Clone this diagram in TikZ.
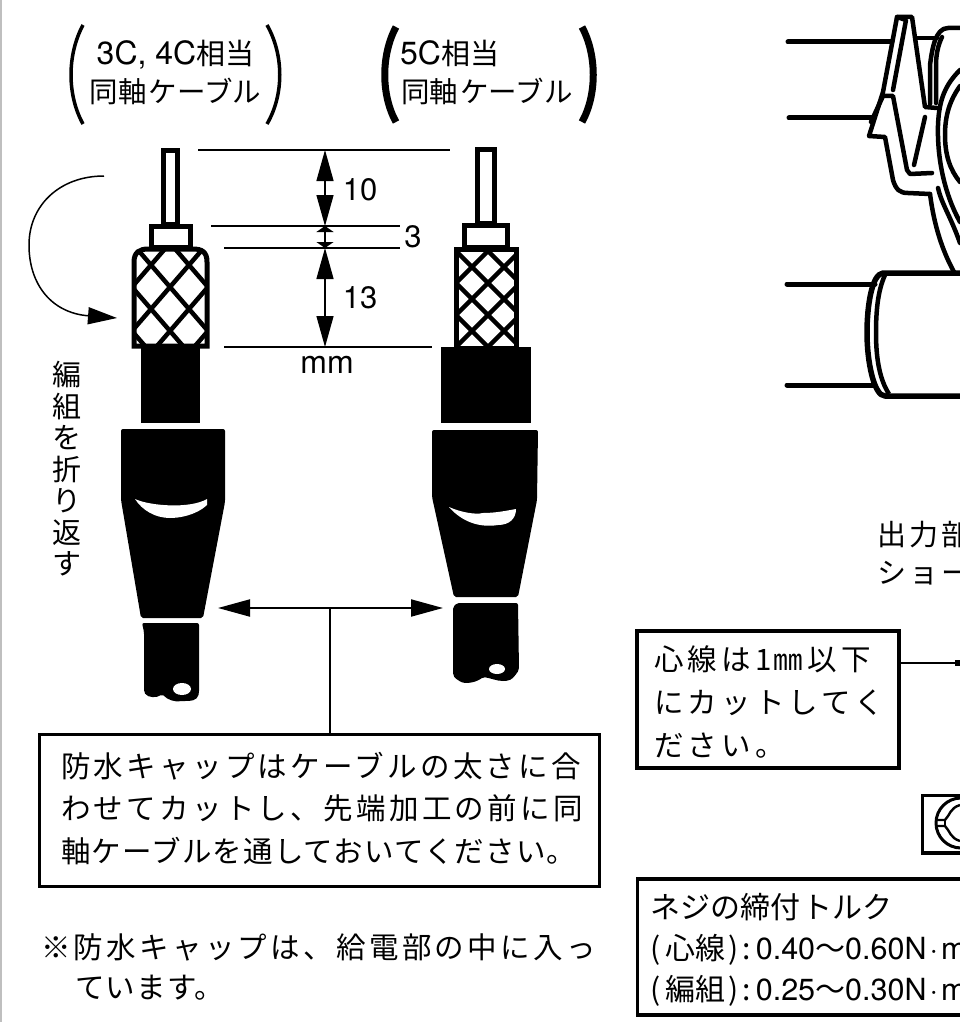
\documentclass[tikz,border=0pt]{standalone}
\usepackage{fontspec}
\usetikzlibrary{arrows.meta}
\newfontfamily\jpfont{Noto Sans CJK JP}
\newfontfamily\jpwide[LetterSpace=11.2]{Noto Sans CJK JP}
\newfontfamily\jpwider[LetterSpace=14]{Noto Sans CJK JP}
\newfontfamily\jptight[LetterSpace=4]{Noto Sans CJK JP}
\newfontfamily\hvfont{TeX Gyre Heros}
\begin{document}
\begin{tikzpicture}
[x=1pt,y=-1pt,
 capnote/.style={font=\fontsize{29.5}{42.6}\selectfont\jpwide,inner sep=0pt,anchor=west,align=left},
 plainnote/.style={font=\fontsize{29}{38}\selectfont\jpfont,inner sep=0pt,anchor=center,align=center},
 leftnote/.style={font=\fontsize{29}{38}\selectfont\jpfont,inner sep=0pt,anchor=west,align=left},
 dimlabel/.style={font=\fontsize{31}{36}\selectfont\hvfont,inner sep=0pt},
 framebox/.style={draw,line width=3.5pt,inner sep=0pt},
 dimline/.style={line width=1.5pt},
 longtips/.style={line width=1.4pt,{Triangle[length=31pt,width=17pt]}-{Triangle[length=31pt,width=17pt]}},
 shorttips/.style={line width=1.4pt,{Triangle[length=6pt,width=17pt]}-{Triangle[length=6pt,width=17pt]}},
 wallline/.style={line width=5pt},
 tiltline/.style={line width=4.5pt},
 legline/.style={line width=5pt,line cap=round,line join=round},
 clampline/.style={line width=4.5pt,line join=round,line cap=round}]
\useasboundingbox (0,0) rectangle (960,1022);
\clip (0,0) rectangle (960,1022);
\fill[white] (0,0) rectangle (960,1022);
\fill[black!25] (0,0) rectangle (2,1022);

% headings
\draw[line width=3.5pt] (83,25) .. controls (67,55) and (67,95) .. (83,124);
\draw[line width=3.5pt] (267,25) .. controls (284,55) and (284,95) .. (267,124);
\draw[line width=7pt] (396,27) .. controls (381,55) and (381,95) .. (396,122);
\draw[line width=7pt] (582,27) .. controls (597,55) and (597,95) .. (582,122);
\node (headA) at (175.5,72) [plainnote] {{\fontsize{32}{38}\selectfont\hvfont 3C, 4C}相当\\{\fontsize{28.5}{38}\selectfont 同軸\kern2pt ケーブル}};
\node (headB) at (400,72) [leftnote] {{\fontsize{32}{38}\selectfont\hvfont 5C}相当\\\kern1pt{\fontsize{28.5}{38}\selectfont 同軸\kern2pt ケーブル}};

% thin cable
\draw[wallline] (163.5,150.5) rectangle (177.5,224);
\draw[wallline] (151,226) rectangle (190,247);
\begin{scope}
\clip (134,348) -- (134,262) .. controls (134,252) and (140,249) .. (148,249) -- (193,249) .. controls (202,249) and (207,252) .. (207,262) -- (207,348) -- cycle;
\foreach \k in {-4,...,4} {
  \draw[tiltline] (170+38*\k-95,287-110) -- (170+38*\k+95,287+110);
  \draw[tiltline] (170+38*\k+95,287-110) -- (170+38*\k-95,287+110);
}
\end{scope}
\draw[wallline] (134,346) -- (134,262) .. controls (134,252) and (140,249) .. (148,249) -- (193,249) .. controls (202,249) and (207,252) .. (207,262) -- (207,346) -- cycle;
\fill (141,348) rectangle (200,423);
\fill[rounded corners=2pt] (121,429) -- (225,429) -- (225,502) -- (203,618) -- (141,618) -- (121,500) -- cycle;
\fill[white] (135,499) .. controls (150,506) and (190,509) .. (207,499) -- (207,505) .. controls (195,516) and (178,518) .. (170,518) .. controls (155,518) and (142,510) .. (135,499) -- cycle;
\fill[rounded corners=2pt] (142,623) -- (199,623) -- (199,693) .. controls (197,701) and (190,701) .. (183,701) .. controls (174,702) and (168,700) .. (162,694) .. controls (157,698) and (148,698) .. (144,692) -- (144,632) -- cycle;
\fill[white] (182,689) ellipse (9pt and 6pt);

% thick cable
\draw[wallline] (477.5,149.5) rectangle (494.5,223);
\draw[wallline] (464.5,225) rectangle (507.5,247);
\begin{scope}
\clip (456.5,249) rectangle (516,348);
\foreach \k in {-4,...,4} {
  \draw[tiltline] (488+32*\k-100,283-100) -- (488+32*\k+100,283+100);
  \draw[tiltline] (488+32*\k+100,283-100) -- (488+32*\k-100,283+100);
}
\end{scope}
\draw[wallline] (456.5,249) rectangle (516,348);
\fill (441,347) rectangle (531,423);
\fill[rounded corners=2pt] (432,430) -- (538,430) -- (537,500) -- (518,597) -- (454,597) -- (432,497) -- cycle;
\fill[white] (449,507) .. controls (460,512) and (475,515) .. (483,513) .. controls (495,513) and (505,511) .. (516,509) .. controls (516,518) and (510,525) .. (498,525) .. controls (480,528) and (462,522) .. (449,507) -- cycle;
\fill[rounded corners=2pt] (457,603) -- (518,603) -- (519,670) .. controls (514,677) and (512,680) .. (505,681) .. controls (497,681) and (490,678) .. (483,677) .. controls (477,682) and (465,685) .. (458,680) .. controls (455,678) and (453,676) .. (453,671) -- (453,607) -- cycle;
\fill[white] (497,669) ellipse (8pt and 5pt);

% folding arrow
\coordinate (foldstart) at (104,176);
\coordinate (foldend) at (117,318);
\draw[line width=1.5pt,-{Triangle[length=29pt,width=17pt]}] (foldstart) .. controls (60,176) and (29,205) .. (29,245) .. controls (29,285) and (52,313) .. (foldend);
\node (foldnote) at (67,469) [inner sep=0pt,align=center,font=\fontsize{29}{31.5}\selectfont\jpfont] {編\\組\\を\\折\\り\\返\\す};

% dimensions
\coordinate (lvlA) at (325,150);
\coordinate (lvlB) at (325,226);
\coordinate (lvlC) at (325,248);
\coordinate (lvlD) at (325,347);
\coordinate (tickAl) at (198,150);
\coordinate (tickAr) at (450,150);
\coordinate (tickBl) at (211,226);
\coordinate (tickBr) at (400,226);
\coordinate (tickCl) at (224,248);
\coordinate (tickCr) at (400,248);
\coordinate (tickDl) at (224,347);
\coordinate (tickDr) at (432,347);
\draw[dimline] (tickAl) -- (tickAr);
\draw[dimline] (tickBl) -- (tickBr);
\draw[dimline] (tickCl) -- (tickCr);
\draw[dimline] (tickDl) -- (tickDr);
\draw[longtips] (lvlA) -- (lvlB);
\draw[shorttips] (lvlB) -- (lvlC);
\draw[longtips] (lvlC) -- (lvlD);
\node (dimten) at (360,190) [dimlabel] {10};
\node (dimthree) at (413,237) [dimlabel] {3};
\node (dimthirteen) at (360,298) [dimlabel] {13};
\node (dimunit) at (327,365) [dimlabel,font=\fontsize{32}{36}\selectfont\hvfont] {mm};

% cap note
\node (capbox) at (319.5,810.5) [framebox,minimum width=560pt,minimum height=152pt] {};
\node (captext) at (61,808.5) [capnote] {防水キャップはケーブルの太さに合\\わせてカットし、先端加工の前に同\\{\jptight 軸ケーブルを通しておいてください。}};
\coordinate (capleft) at (218,608);
\coordinate (capright) at (443,608);
\coordinate (captee) at (330,608);
\draw[line width=2pt,{Triangle[length=32pt,width=17pt]}-{Triangle[length=32pt,width=17pt]}] (capleft) -- (capright);
\draw[line width=2.5pt] (captee) -- (capbox.north -| captee);
\node (capfoot) at (41,947) [capnote] {※防水キャップは、給電部の中に入っ};
\node (capfootb) at (75,988) [capnote,font=\fontsize{29.5}{42.6}\selectfont\jptight] {ています。};

% right part
\draw[legline] (788,42) -- (892,42);
\draw[legline] (789,118) -- (873,118);
\draw[legline] (787,284) -- (875,284);
\draw[legline] (787,385) -- (873,385);
\draw[clampline] (916,38) -- (937,38);
\draw[clampline] (893,90) -- (906,20) -- (897,17) -- (883,92) -- (869,136) -- (885,137) -- (893,180) .. controls (896,190) and (900,193) .. (908,193) -- (930,194);
\draw[clampline] (871,122) -- (883,96) -- (893,96) -- (907,170) -- (910,174) -- (932,173);
\draw[clampline] (897,17) -- (912,17) -- (925,107) -- (937,108);
\draw[clampline] (925,117) -- (914,165);
\draw[clampline] (930,104) -- (930,65) .. controls (932,50) and (935,28) .. (948,28) -- (960,28);
\draw[clampline] (936,103) -- (936,65) .. controls (936,55) and (938,45) .. (942,37);
\draw[clampline] (960,70) .. controls (945,85) and (939,100) .. (938,125) .. controls (937,160) and (945,195) .. (960,222);
\draw[clampline] (960,86) .. controls (950,100) and (945,115) .. (945,135) .. controls (945,155) and (950,170) .. (960,182);
\draw[clampline] (938,188) .. controls (942,205) and (950,215) .. (960,243);
\draw[clampline] (930,194) .. controls (934,225) and (942,250) .. (954,272);
\draw[line width=5.5pt,line join=round] (960,273) -- (883,273) .. controls (872,274) and (867,305) .. (867,333) .. controls (867,362) and (874,396) .. (885,396) -- (960,396);
\draw[line width=4.5pt] (885,275) .. controls (878,290) and (876,310) .. (876,333) .. controls (876,360) and (880,380) .. (889,394);

\node (outnote) at (877,553) [leftnote,font=\fontsize{29}{38}\selectfont\jpwide] {出力部\\ショー};

% core note
\node (corebox) at (768,699.5) [framebox,minimum width=262pt,minimum height=137pt] {};
\node (coretext) at (654,702) [capnote,font=\fontsize{29.5}{42.6}\selectfont\jpwider] {心線は\kern5pt 1\kern1pt ㎜\kern5pt 以下\\にカットしてく\\ださい。};
\coordinate (coreend) at (956,663);
\draw[line width=1.2pt] (corebox.east |- coreend) -- (coreend);
\fill (955,660) rectangle (961,666);

% tool mark
\draw[line width=3.2pt] (960,795.5) -- (922.5,795.5) -- (922.5,853) -- (960,853);
\draw[line width=3pt] (961,823) circle (25pt);
\draw[line width=2.4pt] (937,820) -- (945,820) .. controls (950,815) and (950,808) .. (960,805);
\draw[line width=2.4pt] (937,826) -- (945,826) .. controls (950,831) and (950,838) .. (960,841);
\draw[line width=1.5pt] (945,820) -- (945,826);

% torque note
\node (torquebox) at (830,947) [framebox,minimum width=385pt,minimum height=136pt] {};
\node (torquetext) at (650,949.5) [leftnote,font=\fontsize{30}{41}\selectfont\jpfont] {ネジの締付\kern2pt トルク\\(\kern5pt 心線\kern3pt)\kern4pt :\kern5pt{\fontsize{30.5}{41}\selectfont\hvfont 0.40}〜{\fontsize{30.5}{41}\selectfont\hvfont 0.60N\kern3pt·\kern3pt m}\\(\kern5pt 編組\kern3pt)\kern4pt :\kern5pt{\fontsize{30.5}{41}\selectfont\hvfont 0.25}〜{\fontsize{30.5}{41}\selectfont\hvfont 0.30N\kern3pt·\kern3pt m}};
\end{tikzpicture}
\end{document}
